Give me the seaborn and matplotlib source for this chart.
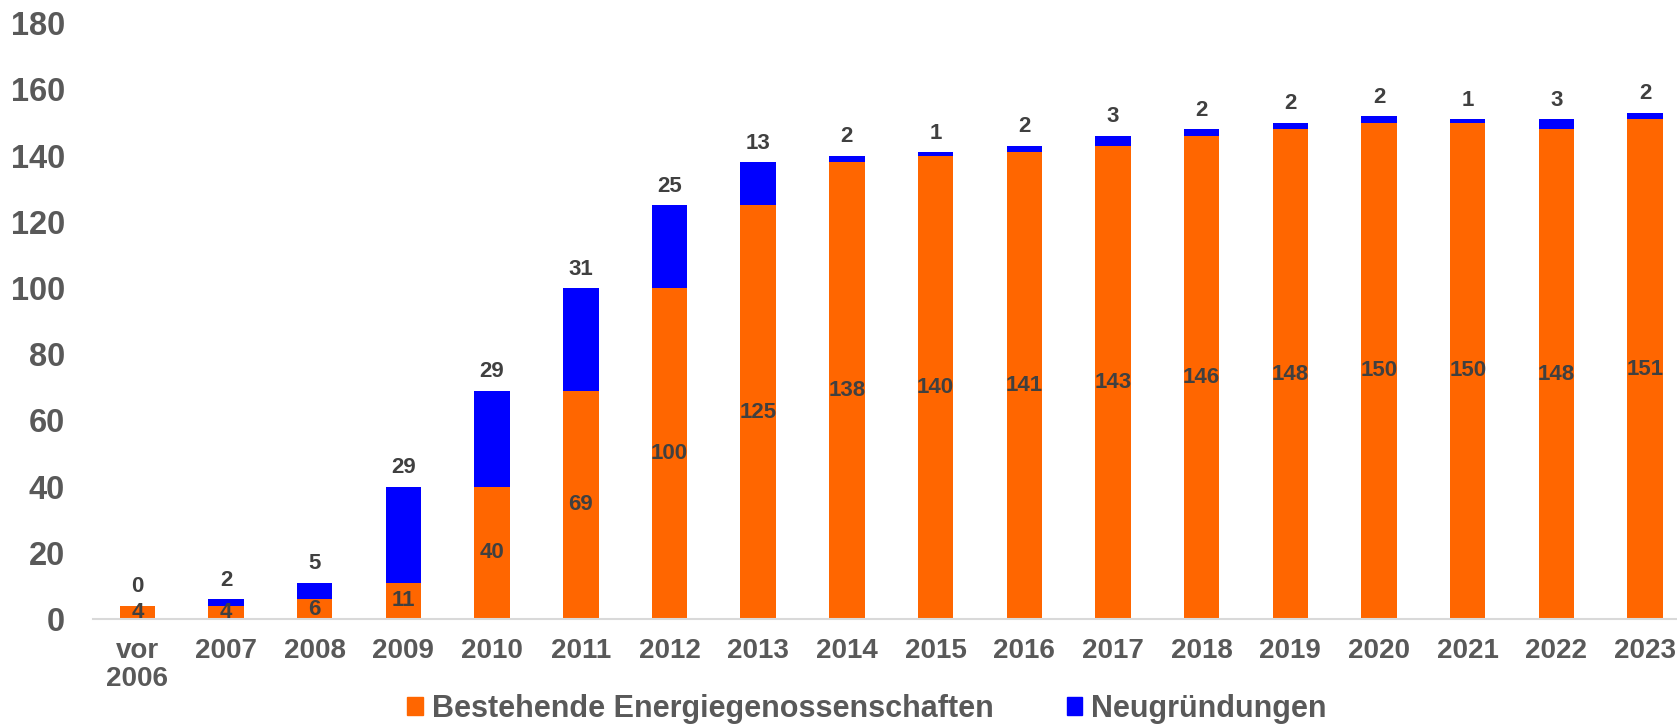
import pandas as pd
import seaborn as sns
import matplotlib.pyplot as plt
from matplotlib.patches import Patch

# Data
jahre = ['vor\n2006', '2007', '2008', '2009', '2010', '2011', '2012', '2013', '2014',
         '2015', '2016', '2017', '2018', '2019', '2020', '2021', '2022', '2023']
bestehende = [4, 4, 6, 11, 40, 69, 100, 125, 138, 140, 141, 143, 146, 148, 150, 150, 148, 151]
neugruendungen = [0, 2, 5, 29, 29, 31, 25, 13, 2, 1, 2, 3, 2, 2, 2, 1, 3, 2]

ORANGE = '#FF6600'
BLUE = '#0000FF'
TEXT = '#595959'
LABEL = '#404040'

data = pd.DataFrame({'Jahr': jahre, 'Bestehende': bestehende, 'Neu': neugruendungen})
data['Gesamt'] = data['Bestehende'] + data['Neu']

sns.set_style('white')
plt.rcParams['font.family'] = ['Liberation Sans', 'DejaVu Sans']
plt.rcParams['font.weight'] = 'bold'

fig = plt.figure(figsize=(16.77, 7.27), dpi=100)
ax = fig.add_axes([93 / 1677, 0.1486, 1 - 93 / 1677, 0.968 - 0.1486])

# Stacked bars: total in blue, existing in orange in front
sns.barplot(data=data, x='Jahr', y='Gesamt', color=BLUE, width=0.4, saturation=1,
            linewidth=0, ax=ax)
sns.barplot(data=data, x='Jahr', y='Bestehende', color=ORANGE, width=0.4, saturation=1,
            linewidth=0, ax=ax)

# Labels: new foundations above the bar, existing inside the orange part
top_bars = ax.containers[0]
inner_bars = ax.containers[1]
ax.bar_label(top_bars, labels=[str(v) for v in neugruendungen], padding=6,
             fontsize=16, fontweight='bold', color=LABEL)
ax.bar_label(inner_bars, labels=[str(v) for v in bestehende], label_type='center',
             fontsize=16, fontweight='bold', color=LABEL)

ax.set_ylim(0, 180)
ax.set_yticks(range(0, 181, 20))
ax.set_xlim(-0.5, 17.36)
ax.set_xlabel('')
ax.set_ylabel('')

for side in ['top', 'right', 'left']:
    ax.spines[side].set_visible(False)
ax.spines['bottom'].set_color('#D9D9D9')
ax.spines['bottom'].set_linewidth(1.5)

ax.tick_params(axis='y', length=0, pad=20, labelsize=23.5, labelcolor=TEXT)
ax.tick_params(axis='x', length=0, pad=14, labelsize=20, labelcolor=TEXT)
for lbl in ax.get_xticklabels() + ax.get_yticklabels():
    lbl.set_fontweight('bold')
for lbl in ax.get_xticklabels():
    lbl.set_linespacing(1.1)

# Legend at the bottom
handles = [Patch(color=ORANGE, label='Bestehende Energiegenossenschaften'),
           Patch(color=BLUE, label='Neugründungen')]
leg = fig.legend(handles=handles, loc='center', bbox_to_anchor=(0.517, 0.025), ncol=2,
                 frameon=False, fontsize=22, handlelength=0.5, handleheight=0.5,
                 handletextpad=0.3, columnspacing=2.4)
for t in leg.get_texts():
    t.set_color(TEXT)
    t.set_fontweight('bold')

plt.savefig('out.png', dpi=100)
plt.close()
